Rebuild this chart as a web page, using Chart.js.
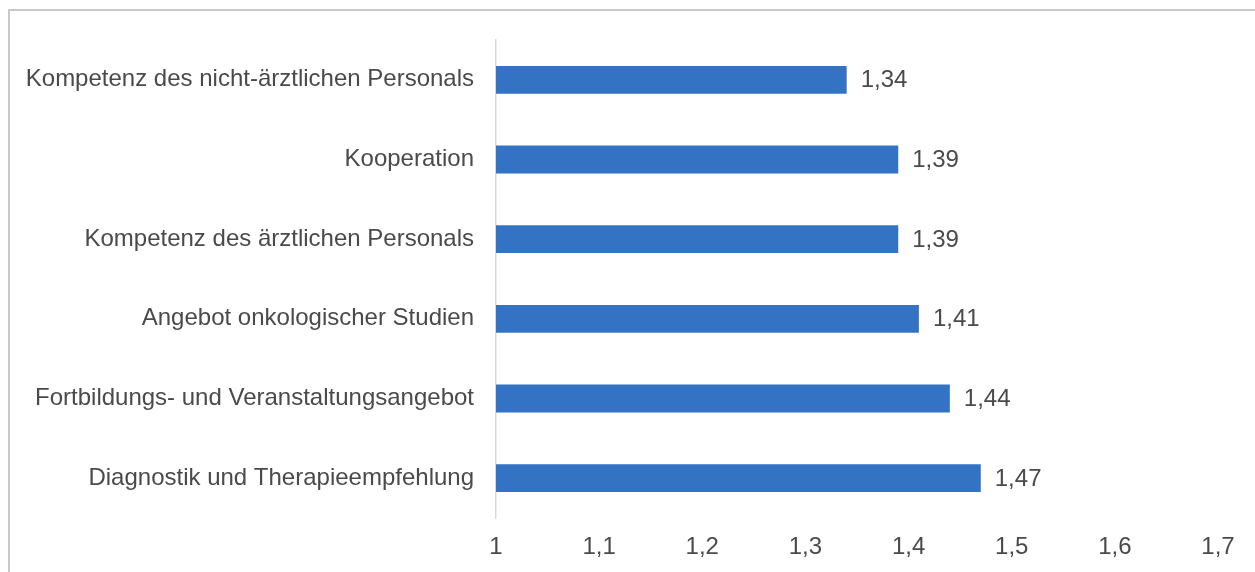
<!DOCTYPE html>
<html>
<head>
<meta charset="utf-8">
<script src="https://cdn.jsdelivr.net/npm/chart.js@4/dist/chart.umd.min.js"></script>
<style>
  html, body { margin: 0; padding: 0; background: #fff; }
  #wrap { position: relative; width: 1255px; height: 572px; overflow: hidden; }
  #frame {
    position: absolute; left: 8px; top: 9px; width: 1300px; height: 600px;
    border-left: 2px solid #c9c9c9; border-top: 2px solid #c9c9c9;
  }
  canvas { position: absolute; left: 0; top: 0; }
</style>
</head>
<body>
<div id="wrap">
  <div id="frame"></div>
  <canvas id="bars" width="1255" height="572"></canvas>
</div>
<script>
/* Werte aus der Grafik */
const categories = [
  'Kompetenz des nicht-ärztlichen Personals',
  'Kooperation',
  'Kompetenz des ärztlichen Personals',
  'Angebot onkologischer Studien',
  'Fortbildungs- und Veranstaltungsangebot',
  'Diagnostik und Therapieempfehlung'
];
const values = [1.34, 1.39, 1.39, 1.41, 1.44, 1.47];
const xTicks = [1, 1.1, 1.2, 1.3, 1.4, 1.5, 1.6, 1.7];

const textColor = '#4a4a4a';
const fontFamily = '"Liberation Sans", Arial, sans-serif';
const fmt = v => String(Math.round(v * 100) / 100).replace('.', ',');

// Datenbeschriftung rechts neben den Balken
const barLabels = {
  id: 'barLabels',
  afterDatasetsDraw(chart) {
    const ctx = chart.ctx;
    const meta = chart.getDatasetMeta(0);
    ctx.save();
    ctx.font = '24px ' + fontFamily;
    ctx.fillStyle = textColor;
    ctx.textAlign = 'left';
    ctx.textBaseline = 'middle';
    meta.data.forEach((bar, i) => {
      ctx.fillText(fmt(values[i]), bar.x + 14, bar.y + 1);
    });
    ctx.restore();
  }
};

new Chart(document.getElementById('bars'), {
  type: 'bar',
  data: {
    labels: categories,
    datasets: [{
      data: values,
      backgroundColor: '#3473c3',
      borderWidth: 0,
      categoryPercentage: 1,
      barPercentage: 0.35
    }]
  },
  options: {
    indexAxis: 'y',
    responsive: false,
    animation: false,
    layout: { padding: { top: 40, right: 37, left: 0, bottom: 0 } },
    plugins: {
      legend: { display: false },
      tooltip: { enabled: false }
    },
    scales: {
      x: {
        min: 1,
        max: 1.7,
        afterBuildTicks(scale) {
          scale.ticks = xTicks.map(v => ({ value: v }));
        },
        afterFit(scale) { scale.height = 54; },
        grid: { display: false, drawTicks: false },
        border: { display: false },
        ticks: {
          padding: 15,
          color: textColor,
          font: { family: fontFamily, size: 24 },
          callback: v => fmt(v)
        }
      },
      y: {
        afterFit(scale) { scale.width = 496; },
        grid: { display: false, drawTicks: false },
        border: { display: true, color: '#d9d9d9', width: 1.5 },
        ticks: {
          padding: 22,
          color: textColor,
          font: { family: fontFamily, size: 24 }
        }
      }
    }
  },
  plugins: [barLabels]
});
</script>
</body>
</html>
